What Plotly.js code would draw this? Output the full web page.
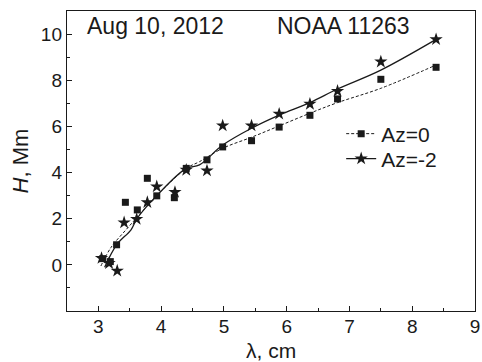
<!DOCTYPE html>
<html><head><meta charset="utf-8">
<script src="https://cdn.plot.ly/plotly-3.0.1.min.js"></script>
<style>html,body{margin:0;padding:0;background:#fff}#c{width:482px;height:362px}</style>
</head><body><div id="c"></div>
<script>
// Measured points, Az=0 (squares)
const az0X = [3.07, 3.19, 3.29, 3.43, 3.62, 3.78, 3.93, 4.21, 4.40, 4.73, 4.98, 5.44, 5.88, 6.37, 6.81, 7.50, 8.38];
const az0Y = [0.27, 0.14, 0.87, 2.71, 2.38, 3.75, 2.99, 2.91, 4.18, 4.55, 5.11, 5.38, 5.97, 6.48, 7.19, 8.04, 8.56];
// Measured points, Az=-2 (stars)
const az2X = [3.05, 3.17, 3.30, 3.41, 3.61, 3.78, 3.93, 4.22, 4.40, 4.73, 4.98, 5.44, 5.88, 6.37, 6.81, 7.50, 8.38];
const az2Y = [0.29, 0.07, -0.26, 1.83, 1.98, 2.71, 3.39, 3.15, 4.11, 4.08, 6.03, 6.03, 6.54, 6.97, 7.53, 8.80, 9.77];
// Fit curve, Az=0 (dashed)
const fit0X = [3.04, 3.20, 3.44, 3.65, 3.93, 4.40, 4.61, 4.98, 5.44, 5.88, 6.37, 6.81, 7.50, 8.38];
const fit0Y = [-0.05, 0.75, 1.52, 2.16, 3.00, 4.18, 4.47, 5.05, 5.53, 6.02, 6.57, 7.03, 7.65, 8.66];
// Fit curve, Az=-2 (solid)
const fit2X = [3.10, 3.29, 3.52, 3.62, 3.93, 4.40, 4.61, 4.98, 5.44, 5.88, 6.37, 6.81, 7.50, 8.38];
const fit2Y = [-0.10, 0.87, 1.52, 2.02, 3.00, 4.18, 4.33, 5.19, 5.92, 6.49, 7.03, 7.62, 8.44, 9.77];
// Tick labels
const yTicks = [0, 2, 4, 6, 8, 10];
const xTicks = [3, 4, 5, 6, 7, 8, 9];

const ink = '#1a1a1a';
const fam = 'Liberation Sans, Arial, sans-serif';
const tickFont = {family: fam, size: 19, color: ink};
const bigFont = {family: fam, size: 23, color: ink};
const legFont = {family: fam, size: 21, color: ink};
const titleFont = {family: fam, size: 21, color: ink};

const traces = [
  {x: fit0X, y: fit0Y, mode: 'lines', line: {shape: 'spline', color: ink, width: 1, dash: '3px,2px'}, showlegend: false, hoverinfo: 'skip'},
  {x: fit2X, y: fit2Y, mode: 'lines', line: {shape: 'spline', color: ink, width: 1.3}, showlegend: false, hoverinfo: 'skip'},
  {x: az0X, y: az0Y, mode: 'markers', marker: {symbol: 'square', size: 7, color: ink}, showlegend: false},
  {x: az2X, y: az2Y, mode: 'markers', marker: {symbol: 'star', size: 10, color: ink}, showlegend: false},
  {x: [null], y: [null], name: 'Az=0', legend: 'legend', mode: 'lines+markers', line: {color: ink, width: 1, dash: '3px,2px'}, marker: {symbol: 'square', size: 7, color: ink}},
  {x: [null], y: [null], name: 'Az=-2', legend: 'legend2', mode: 'lines+markers', line: {color: ink, width: 1.3}, marker: {symbol: 'star', size: 10, color: ink}}
];

const legendBase = {xanchor: 'left', yanchor: 'middle', bgcolor: 'rgba(0,0,0,0)', font: legFont, borderwidth: 0};

const layout = {
  width: 482, height: 362,
  margin: {l: 67, r: 7, t: 11, b: 51},
  paper_bgcolor: '#fff', plot_bgcolor: '#fff',
  font: tickFont,
  showlegend: true,
  legend: Object.assign({x: 0.672, y: 0.59}, legendBase),
  legend2: Object.assign({x: 0.672, y: 0.507}, legendBase),
  xaxis: {
    range: [2.5, 9], tickmode: 'array', tickvals: xTicks, ticks: 'inside', ticklen: 5, tickcolor: ink,
    showline: true, linecolor: ink, linewidth: 1.2, mirror: true, showgrid: false, zeroline: false,
    tickfont: tickFont, ticklabelstandoff: -2,
    minor: {dtick: 0.5, tick0: 2.5, ticks: 'inside', ticklen: 3, tickcolor: ink, showgrid: false}
  },
  yaxis: {
    range: [-2, 11], tickmode: 'array', tickvals: yTicks, ticks: 'inside', ticklen: 5, tickcolor: ink,
    showline: true, linecolor: ink, linewidth: 1.2, mirror: true, showgrid: false, zeroline: false,
    tickfont: tickFont,
    minor: {dtick: 1, tick0: 0, ticks: 'inside', ticklen: 3, tickcolor: ink, showgrid: false},
    title: {text: '<i>H</i>, Mm', font: {family: fam, size: 22, color: ink}, standoff: 6}
  },
  annotations: [
    {xref: 'paper', yref: 'paper', x: 0.045, y: 1.0, xanchor: 'left', yanchor: 'top', text: 'Aug 10, 2012', showarrow: false, font: bigFont},
    {xref: 'paper', yref: 'paper', x: 0.51, y: 1.0, xanchor: 'left', yanchor: 'top', text: 'NOAA 11263', showarrow: false, font: bigFont},
    {xref: 'paper', yref: 'paper', x: 0.5, y: -0.172, xanchor: 'center', yanchor: 'bottom', text: 'λ, cm', showarrow: false, font: titleFont, borderpad: 0}
  ]
};

Plotly.newPlot('c', traces, layout, {staticPlot: true, displayModeBar: false});
</script>
</body></html>
